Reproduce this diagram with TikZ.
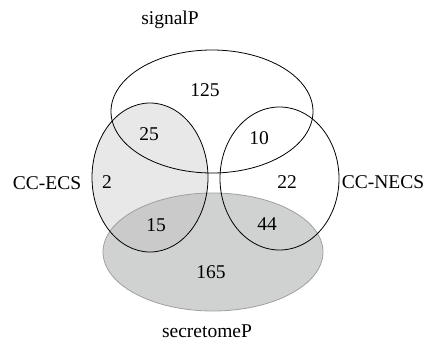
\documentclass[tikz,border=0pt]{standalone}
\usepackage{fontspec}
\setmainfont{Liberation Serif}
\definecolor{ecsfill}{HTML}{E8E8E8}
\definecolor{secfill}{HTML}{D0D1D1}
\definecolor{ovfill}{HTML}{CACACA}
\definecolor{secedge}{HTML}{A0A0A0}
\begin{document}
\begin{tikzpicture}[x=1pt,y=-1pt,
  setline/.style={draw=black,line width=0.8pt},
  lbl/.style={inner sep=0pt,font=\fontsize{19.5}{22}\selectfont}]
\useasboundingbox (0,0) rectangle (428,345);
% fills
\fill[ecsfill] (150,177.5) ellipse [x radius=58,y radius=74.5];
\fill[secfill] (213,252) ellipse [x radius=110,y radius=59];
\begin{scope}
  \clip (150,177.5) ellipse [x radius=58,y radius=74.5];
  \fill[ovfill] (213,252) ellipse [x radius=110,y radius=59];
\end{scope}
% outlines
\draw[draw=secedge,line width=0.8pt] (213,252) ellipse [x radius=110,y radius=59];
\draw[setline] (212,111.5) ellipse [x radius=101,y radius=61.5];
\draw[setline] (150,177.5) ellipse [x radius=58,y radius=74.5];
\draw[setline] (279.5,178.5) ellipse [x radius=59.5,y radius=71.5];
% labels
\node[lbl] (signal) at (170,20) {signalP};
\node[lbl] (secret) at (207,331) {secretomeP};
\node[lbl] (ecs) at (47,183) {CC-ECS};
\node[lbl] (necs) at (383,182) {CC-NECS};
\node[lbl] (n125) at (205,90) {125};
\node[lbl] (n25) at (149,134) {25};
\node[lbl] (n10) at (259,138) {10};
\node[lbl] (n2) at (107,182) {2};
\node[lbl] (n22) at (287,182) {22};
\node[lbl] (n15) at (156,225) {15};
\node[lbl] (n44) at (267,224) {44};
\node[lbl] (n165) at (211,272) {165};
\end{tikzpicture}
\end{document}
